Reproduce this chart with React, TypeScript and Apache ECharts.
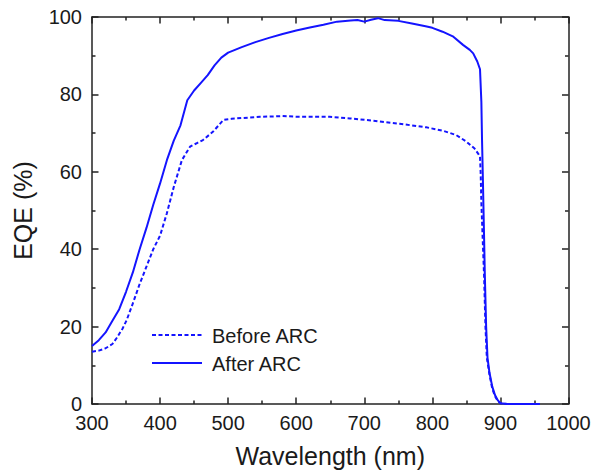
import React, { useEffect, useRef } from "react";
import * as echarts from "echarts";

const afterWl = [300,310,320,330,340,350,360,370,380,390,400,410,420,430,440,450,460,470,480,490,500,510,520,540,560,580,600,620,640,660,680,690,700,710,720,730,750,770,790,800,815,830,845,855,860,866,870,872,873,874,876,877,879,881,884,888,892,896,900,910,930,958];
const afterEqe = [15,16.5,18.5,21.5,24.5,29,34,40,45.5,51.5,57,63,68,72,78.5,81,83,85,87.5,89.5,90.8,91.5,92.2,93.5,94.6,95.6,96.5,97.3,98,98.8,99.1,99.2,98.8,99.3,99.7,99.2,99,98.3,97.6,97.2,96.2,95,92.8,91.5,90.6,88.5,86.5,78,68,60,43,34,20,12,8,4.5,2.3,1,0.2,0,0,0];

const beforeWl = [300,310,320,330,336,345,351,360,370,380,390,400,410,420,432,444,455,463,478,493,505,520,547,580,605,649,679,713,752,791,816,835,850,862,868,870,871,872,874,876,878,880,884,888,892,896,900,910];
const beforeEqe = [13.5,13.8,14.4,15.5,17,19.5,21.7,26,31,35.5,40,43.5,49.3,56,63,66.5,67.5,68.2,70.4,73.4,73.7,73.9,74.2,74.4,74.2,74.2,73.8,73.2,72.4,71.5,70.6,69.5,67.8,66,64.5,63.9,59.6,52,42.4,33,20,12,7.5,4,2,0.8,0.2,0];

const seriesNames = ["Before ARC", "After ARC"];
const xMin = 300, xMax = 1000, xStep = 100;
const yMin = 0, yMax = 100, yStep = 20;

const zip = (xs: number[], ys: number[]) => xs.map((x, i) => [x, ys[i]]);

const axisColor = "#222";
const textColor = "#1a1a1a";
const blue = "#1414ff";
const font = "Arial, Liberation Sans, sans-serif";
const dash = [4, 2.5];

function axisParts() {
  return {
    axisLine: { show: true, onZero: false, lineStyle: { color: axisColor, width: 1.5 } },
    axisTick: { show: true, inside: true, length: 6.5, lineStyle: { color: axisColor, width: 1.5 } },
    minorTick: { show: true, splitNumber: 2, length: 3.5, lineStyle: { color: axisColor, width: 1.5 } },
    splitLine: { show: false },
  };
}

export default function App() {
  const ref = useRef<HTMLDivElement>(null);
  useEffect(() => {
    if (!ref.current) return;
    const chart = echarts.init(ref.current, null, { renderer: "svg" });
    chart.setOption({
      animation: false,
      grid: { left: 92, right: 25.5, top: 17, bottom: 70, containLabel: false },
      xAxis: [
        {
          type: "value", min: xMin, max: xMax, interval: xStep, position: "bottom",
          ...axisParts(),
          axisLabel: { color: textColor, fontFamily: font, fontSize: 20, margin: 10, lineHeight: 18, formatter: (v: number) => String(v) },
          name: "Wavelength (nm)", nameLocation: "middle", nameGap: 39,
          nameTextStyle: { color: textColor, fontFamily: font, fontSize: 25 },
        },
        {
          type: "value", min: xMin, max: xMax, interval: xStep, position: "top",
          ...axisParts(), axisLabel: { show: false },
        },
      ],
      yAxis: [
        {
          type: "value", min: yMin, max: yMax, interval: yStep, position: "left",
          ...axisParts(),
          axisLabel: { color: textColor, fontFamily: font, fontSize: 20, margin: 10, lineHeight: 15 },
          name: "EQE (%)", nameLocation: "middle", nameGap: 57,
          nameTextStyle: { color: textColor, fontFamily: font, fontSize: 25 },
        },
        {
          type: "value", min: yMin, max: yMax, interval: yStep, position: "right",
          ...axisParts(), axisLabel: { show: false },
        },
      ],
      graphic: [
        { type: "line", shape: { x1: 152, y1: 335, x2: 202, y2: 335 }, style: { stroke: blue, lineWidth: 2, lineDash: dash } },
        { type: "text", x: 212, y: 336, style: { text: seriesNames[0], fill: textColor, font: `20px ${font}`, verticalAlign: "middle" } },
        { type: "line", shape: { x1: 152, y1: 363, x2: 202, y2: 363 }, style: { stroke: blue, lineWidth: 2 } },
        { type: "text", x: 212, y: 364, style: { text: seriesNames[1], fill: textColor, font: `20px ${font}`, verticalAlign: "middle" } },
      ],
      series: [
        {
          name: seriesNames[0], type: "line", symbol: "none", xAxisIndex: 0, yAxisIndex: 0,
          data: zip(beforeWl, beforeEqe),
          lineStyle: { color: blue, width: 2, type: dash },
          itemStyle: { color: blue },
        },
        {
          name: seriesNames[1], type: "line", symbol: "none", xAxisIndex: 0, yAxisIndex: 0,
          data: zip(afterWl, afterEqe),
          lineStyle: { color: blue, width: 2 },
          itemStyle: { color: blue },
        },
      ],
    });
    return () => chart.dispose();
  }, []);
  return <div ref={ref} style={{ width: 594, height: 474, position: "absolute", left: 0, top: 0, background: "#fff" }} />;
}
